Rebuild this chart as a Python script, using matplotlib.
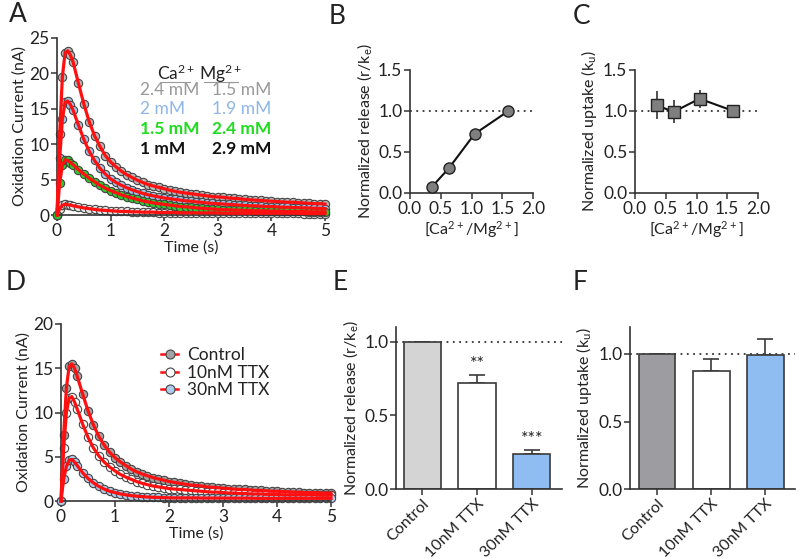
import numpy as np
import matplotlib
matplotlib.use("Agg")
import matplotlib.pyplot as plt
from matplotlib.lines import Line2D

plt.rcParams['font.family'] = ['Lato', 'DejaVu Sans']
plt.rcParams['mathtext.default'] = 'regular'
plt.rcParams['text.color'] = '#222222'
plt.rcParams['axes.labelcolor'] = '#222222'
plt.rcParams['xtick.color'] = '#222222'
plt.rcParams['ytick.color'] = '#222222'

# ---- data ----
time_s = [0.0, 0.05, 0.1, 0.15, 0.2, 0.25, 0.3, 0.4, 0.5, 0.6, 0.7, 0.8, 0.9, 1.0,
          1.1, 1.2, 1.3, 1.4, 1.5, 1.6, 1.7, 1.8, 1.9, 2.0, 2.1, 2.2, 2.3, 2.4, 2.5,
          2.6, 2.7, 2.8, 2.9, 3.0, 3.1, 3.2, 3.3, 3.4, 3.5, 3.6, 3.7, 3.8, 3.9, 4.0,
          4.1, 4.2, 4.3, 4.4, 4.5, 4.6, 4.7, 4.8, 4.9, 5.0]

# panel A traces (nA)
ca24 = [0.0, 11.5, 19.5, 22.9, 23.2, 22.6, 21.6,
        18.6, 15.7, 13.2, 11.2, 9.7, 8.4, 7.5, 6.8, 6.2, 5.7, 5.3, 4.9, 4.6, 4.3, 4.1, 3.9, 3.7,
        3.5, 3.35, 3.2, 3.1, 3.0, 2.9, 2.8, 2.7, 2.6, 2.55, 2.5, 2.4, 2.35, 2.3, 2.2,
        2.15, 2.1, 2.05, 2.0, 1.95, 1.9, 1.85, 1.8, 1.8, 1.75, 1.7, 1.65, 1.6, 1.6, 1.55]
ca20 = [0.0, 8.0, 13.5, 15.9, 16.1, 15.6, 14.8,
        12.7, 10.7, 9.0, 7.7, 6.6, 5.8, 5.1, 4.6, 4.2, 3.85, 3.55, 3.3, 3.05, 2.85, 2.7, 2.55, 2.4,
        2.3, 2.2, 2.1, 2.0, 1.95, 1.85, 1.8, 1.7, 1.65, 1.6, 1.55, 1.5, 1.45, 1.4, 1.35,
        1.3, 1.3, 1.25, 1.2, 1.2, 1.15, 1.1, 1.1, 1.05, 1.05, 1.0, 1.0, 0.95, 0.95, 0.9]
ca15 = [0.0, 4.5, 7.0, 7.8, 7.7, 7.4, 7.1,
        6.4, 5.8, 5.2, 4.7, 4.2, 3.8, 3.45, 3.15, 2.85, 2.6, 2.4, 2.2, 2.0, 1.85, 1.7, 1.6, 1.5,
        1.4, 1.3, 1.2, 1.15, 1.1, 1.0, 0.95, 0.9, 0.85, 0.8, 0.75, 0.75, 0.7, 0.7, 0.65,
        0.65, 0.6, 0.6, 0.6, 0.55, 0.55, 0.55, 0.5, 0.5, 0.5, 0.5, 0.45, 0.45, 0.45, 0.45]
ca10 = [0.0, 0.9, 1.4, 1.5, 1.45, 1.4, 1.3,
        1.15, 1.0, 0.9, 0.8, 0.7, 0.65, 0.6, 0.55, 0.5, 0.5, 0.45, 0.45, 0.4, 0.4, 0.4, 0.35, 0.35,
        0.35, 0.35, 0.3, 0.3, 0.3, 0.3, 0.3, 0.3, 0.3, 0.3, 0.25, 0.25, 0.25, 0.25, 0.25,
        0.25, 0.25, 0.25, 0.25, 0.25, 0.25, 0.25, 0.25, 0.25, 0.25, 0.2, 0.2, 0.2, 0.2, 0.2]

ca_labels = ['2.4 mM', '2 mM', '1.5 mM', '1 mM']
mg_labels = ['1.5 mM', '1.9 mM', '2.4 mM', '2.9 mM']

# panel B / C
ratio = [0.35, 0.63, 1.05, 1.6]
release = [0.07, 0.30, 0.72, 1.0]
uptake = [1.07, 0.99, 1.15, 1.0]
uptake_err = [0.17, 0.14, 0.11, 0.0]

# panel D traces (nA)
ctrl = [0.0, 7.5, 12.8, 15.2, 15.5, 15.0, 14.1,
        12.1, 10.2, 8.6, 7.3, 6.3, 5.5, 4.9, 4.4, 4.0, 3.6, 3.3, 3.05, 2.85, 2.65, 2.5, 2.35, 2.2,
        2.1, 2.0, 1.9, 1.8, 1.75, 1.7, 1.6, 1.55, 1.5, 1.45, 1.4, 1.35, 1.3, 1.3, 1.25,
        1.2, 1.2, 1.15, 1.1, 1.1, 1.05, 1.05, 1.0, 1.0, 0.95, 0.95, 0.95, 0.9, 0.9, 0.9]
ttx10 = [0.0, 6.0, 10.0, 11.6, 11.8, 11.2, 10.4,
         8.7, 7.2, 6.0, 5.1, 4.4, 3.85, 3.4, 3.0, 2.7, 2.45, 2.2, 2.0, 1.85, 1.7, 1.6, 1.5, 1.4,
         1.35, 1.3, 1.25, 1.2, 1.15, 1.1, 1.05, 1.0, 1.0, 0.95, 0.9, 0.9, 0.85, 0.85, 0.8,
         0.8, 0.8, 0.75, 0.75, 0.75, 0.7, 0.7, 0.7, 0.7, 0.7, 0.7, 0.7, 0.65, 0.65, 0.65]
ttx30 = [0.0, 2.5, 3.9, 4.6, 4.7, 4.4, 4.0,
         3.2, 2.55, 2.05, 1.65, 1.35, 1.1, 0.95, 0.8, 0.7, 0.6, 0.55, 0.5, 0.45, 0.42, 0.4, 0.38, 0.36,
         0.35, 0.35, 0.35, 0.35, 0.35, 0.33, 0.33, 0.33, 0.33, 0.33, 0.32, 0.32, 0.32, 0.32, 0.32,
         0.3, 0.3, 0.3, 0.3, 0.3, 0.3, 0.3, 0.3, 0.3, 0.3, 0.3, 0.3, 0.3, 0.3, 0.3]

# panel E / F
groups = ['Control', '10nM TTX', '30nM TTX']
rel_ttx = [1.0, 0.72, 0.24]
rel_ttx_err = [0.0, 0.055, 0.025]
rel_stars = ['', '**', '***']
upt_ttx = [1.0, 0.875, 0.993]
upt_ttx_err = [0.0, 0.09, 0.115]

# ---- figure ----
W, H = 800, 559
fig = plt.figure(figsize=(W / 100, H / 100), dpi=100)

TICK_FS = 12.5
LAB_FS = 11.5

def add_ax(l, t, r, b):
    return fig.add_axes([l / W, 1 - b / H, (r - l) / W, (b - t) / H])

def style(ax):
    for s in ['top', 'right']:
        ax.spines[s].set_visible(False)
    for s in ['left', 'bottom']:
        ax.spines[s].set_linewidth(1.2)
        ax.spines[s].set_color('#333333')
    ax.tick_params(direction='out', length=4, width=1.1, labelsize=TICK_FS, colors='#333333',
                   labelcolor='#222222', pad=1.5)

def letter(x, y, s):
    fig.text(x / W, 1 - y / H, s, fontsize=19, ha='center', va='center')

red = '#ff1010'
edge = '#454545'

# A
axA = add_ax(57, 38, 325, 215)
style(axA)
for vals, fc in [(ca24, '#b8b8b8'), (ca20, '#9fc4ea'), (ca10, '#e8e8e8'), (ca15, '#2fc82f')]:
    axA.plot(time_s, vals, 'o', ms=6, mfc=fc, mec=edge, mew=0.8, clip_on=False, zorder=2)
for vals in [ca24, ca20, ca15, ca10]:
    axA.plot(time_s, vals, '-', color=red, lw=2.3, zorder=3, clip_on=False)
axA.set_xlim(0, 5)
axA.set_ylim(0, 25)
axA.set_xticks([0, 1, 2, 3, 4, 5])
axA.set_yticks([0, 5, 10, 15, 20, 25])
axA.set_xlabel('Time (s)', fontsize=LAB_FS, labelpad=1)
axA.set_ylabel('Oxidation Current (nA)', fontsize=LAB_FS, labelpad=2)

leg_cols = ['#999999', '#8fb6e6', '#1fdc1f', '#111111']
leg_weights = ['normal', 'normal', 'bold', 'bold']
fig.text(176 / W, 1 - 80 / H, 'Ca$^{2+}$', fontsize=12.5, ha='center', va='baseline')
fig.text(221 / W, 1 - 80 / H, 'Mg$^{2+}$', fontsize=12.5, ha='center', va='baseline')
fig.add_artist(Line2D([162 / W, 190 / W], [1 - 82 / H, 1 - 82 / H], color='#999999', lw=0.8))
fig.add_artist(Line2D([204 / W, 238 / W], [1 - 82 / H, 1 - 82 / H], color='#999999', lw=0.8))
for i in range(4):
    y = 1 - (90 + i * 19.5) / H
    fig.text(140 / W, y, ca_labels[i], fontsize=12.5, color=leg_cols[i],
             fontweight=leg_weights[i], va='center')
    fig.text(212 / W, y, mg_labels[i], fontsize=12.5, color=leg_cols[i],
             fontweight=leg_weights[i], va='center')

# B
axB = add_ax(410, 70, 533, 193)
style(axB)
axB.axhline(1.0, color='#333333', ls=(0, (1, 2.5)), lw=1.3, zorder=1)
axB.plot(ratio, release, '-o', color='#111111', lw=1.5, ms=8, mfc='#7f7f7f', mec='#222222',
         mew=1.0, zorder=3, clip_on=False)
axB.set_xlim(0, 2)
axB.set_ylim(0, 1.5)
axB.set_xticks([0, 0.5, 1.0, 1.5, 2.0])
axB.set_xticklabels(['0.0', '0.5', '1.0', '1.5', '2.0'])
axB.set_yticks([0, 0.5, 1.0, 1.5])
axB.set_yticklabels(['0.0', '0.5', '1.0', '1.5'])
axB.set_xlabel('[Ca$^{2+}$/Mg$^{2+}$]', fontsize=LAB_FS, labelpad=2)
axB.set_ylabel('Normalized release (r/k$_e$)', fontsize=LAB_FS, labelpad=3)

# C
axC = add_ax(635, 70, 758, 193)
style(axC)
axC.axhline(1.0, color='#333333', ls=(0, (1, 2.5)), lw=1.3, zorder=1)
axC.errorbar(ratio, uptake, yerr=uptake_err, fmt='-s', color='#111111', ecolor='#333333',
             elinewidth=1.2, capsize=0, lw=1.5, ms=8, mfc='#7f7f7f', mec='#222222',
             mew=1.0, zorder=3)
axC.set_xlim(0, 2)
axC.set_ylim(0, 1.5)
axC.set_xticks([0, 0.5, 1.0, 1.5, 2.0])
axC.set_xticklabels(['0.0', '0.5', '1.0', '1.5', '2.0'])
axC.set_yticks([0, 0.5, 1.0, 1.5])
axC.set_yticklabels(['0.0', '0.5', '1.0', '1.5'])
axC.set_xlabel('[Ca$^{2+}$/Mg$^{2+}$]', fontsize=LAB_FS, labelpad=2)
axC.set_ylabel('Normalized uptake (k$_u$)', fontsize=LAB_FS, labelpad=3)

# D
axD = add_ax(61, 324, 331, 501)
style(axD)
d_series = [(ctrl, '#a3a3a3', 'Control'), (ttx10, '#ffffff', '10nM TTX'),
            (ttx30, '#aecbeb', '30nM TTX')]
handles = []
for vals, fc, lab in d_series:
    axD.plot(time_s, vals, 'o', ms=6, mfc=fc, mec=edge, mew=0.8, clip_on=False, zorder=2)
    handles.append(Line2D([], [], color=red, lw=1.8, marker='o', ms=6.5, mfc=fc, mec=edge,
                          mew=0.8, label=lab))
for vals, fc, lab in d_series:
    axD.plot(time_s, vals, '-', color=red, lw=2.3, zorder=3, clip_on=False)
axD.set_xlim(0, 5)
axD.set_ylim(0, 20)
axD.set_xticks([0, 1, 2, 3, 4, 5])
axD.set_yticks([0, 5, 10, 15, 20])
axD.set_xlabel('Time (s)', fontsize=LAB_FS, labelpad=1)
axD.set_ylabel('Oxidation Current (nA)', fontsize=LAB_FS, labelpad=2)
axD.legend(handles=handles, loc='upper left', bbox_to_anchor=(0.37, 0.87), frameon=False,
           fontsize=12.5, handlelength=1.0, handletextpad=0.5, labelspacing=0.1,
           borderpad=0, borderaxespad=0)

# E
axE = add_ax(396, 327, 562, 489)
style(axE)
xpos = np.arange(len(groups))
axE.axhline(1.0, color='#333333', ls=(0, (1, 2.5)), lw=1.3, zorder=0)
axE.bar(xpos, rel_ttx, width=0.68, color=['#d4d4d4', '#ffffff', '#8fbdf2'],
        edgecolor='#3a3a3a', lw=1.2, zorder=2)
axE.errorbar(xpos, rel_ttx, yerr=[[0, 0, 0], rel_ttx_err], fmt='none', ecolor='#3a3a3a',
             elinewidth=1.2, capsize=6, capthick=1.2, zorder=1)
for i in range(3):
    if rel_stars[i]:
        axE.text(xpos[i], rel_ttx[i] + rel_ttx_err[i] + 0.02, rel_stars[i], ha='center',
                 va='bottom', fontsize=13)
axE.set_xlim(-0.48, 2.55)
axE.set_ylim(0, 1.1)
axE.set_yticks([0, 0.5, 1.0])
axE.set_yticklabels(['0.0', '0.5', '1.0'])
axE.set_xticks(xpos)
axE.set_xticklabels(groups, rotation=45, ha='right', rotation_mode='anchor', fontsize=11.5)
axE.set_ylabel('Normalized release (r/k$_e$)', fontsize=LAB_FS, labelpad=3)

# F
axF = add_ax(630, 327, 795, 489)
style(axF)
axF.axhline(1.0, color='#333333', ls=(0, (1, 2.5)), lw=1.3, zorder=0)
axF.bar(xpos, upt_ttx, width=0.68, color=['#9d9da1', '#ffffff', '#8fbdf2'],
        edgecolor='#3a3a3a', lw=1.2, zorder=2)
axF.errorbar(xpos, upt_ttx, yerr=[[0, 0, 0], upt_ttx_err], fmt='none', ecolor='#3a3a3a',
             elinewidth=1.2, capsize=6, capthick=1.2, zorder=1)
axF.set_xlim(-0.5, 2.55)
axF.set_ylim(0, 1.2)
axF.set_yticks([0, 0.5, 1.0])
axF.set_yticklabels(['0.0', '0.5', '1.0'])
axF.set_xticks(xpos)
axF.set_xticklabels(groups, rotation=45, ha='right', rotation_mode='anchor', fontsize=11.5)
axF.set_ylabel('Normalized uptake (k$_u$)', fontsize=LAB_FS, labelpad=3)

letter(18, 15, 'A')
letter(337, 17, 'B')
letter(582, 17, 'C')
letter(16, 282, 'D')
letter(340, 282, 'E')
letter(580, 282, 'F')

fig.savefig('out.png', dpi=100)
